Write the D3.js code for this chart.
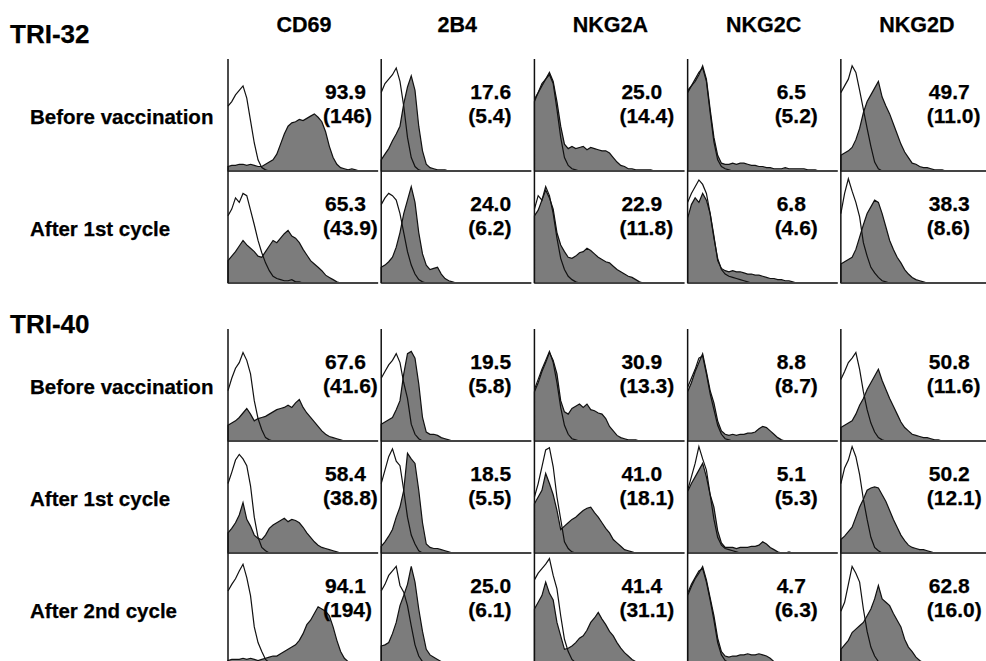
<!DOCTYPE html>
<html>
<head>
<meta charset="utf-8">
<script src="https://cdn.jsdelivr.net/npm/d3@7"></script>
<style>
  body { margin: 0; background: #fff; }
  text { font-family: 'Liberation Sans', Arial, Helvetica, sans-serif; font-weight: bold; fill: #000; stroke: #000; stroke-width: 0.25px; }
</style>
</head>
<body>
<script>
// labels
let patients = ['TRI-32', 'TRI-40']
let markers = ['CD69', '2B4', 'NKG2A', 'NKG2C', 'NKG2D']
let timepoints = ['Before vaccination', 'After 1st cycle', 'Before vaccination', 'After 1st cycle', 'After 2nd cycle']
let rowPatient = [0, 0, 1, 1, 1]

// % positive cells, one row per timepoint, one column per marker
let pctPositive = [
  [93.9, 17.6, 25.0, 6.5, 49.7],
  [65.3, 24.0, 22.9, 6.8, 38.3],
  [67.6, 19.5, 30.9, 8.8, 50.8],
  [58.4, 18.5, 41.0, 5.1, 50.2],
  [94.1, 25.0, 41.4, 4.7, 62.8]
]
// mean fluorescence (in brackets)
let mfi = [
  [146, 5.4, 14.4, 5.2, 11.0],
  [43.9, 6.2, 11.8, 4.6, 8.6],
  [41.6, 5.8, 13.3, 8.7, 11.6],
  [38.8, 5.5, 18.1, 5.3, 12.1],
  [194, 6.1, 31.1, 6.3, 16.0]
]

// histogram counts (% of panel height) per channel bin
// open = isotype control, stained = filled grey
let cd69Open = [
  [58, 62, 68, 72, 76, 65, 45, 25, 10, 3, 1, 0],
  [60, 66, 76, 72, 80, 78, 65, 52, 38, 27, 18, 11, 6, 4, 3, 2, 2, 3, 1, 1, 0],
  [45, 56, 65, 70, 79, 72, 60, 36, 20, 10, 3, 1, 0],
  [62, 72, 83, 88, 84, 78, 60, 32, 14, 5, 2, 0],
  [66, 72, 77, 84, 90, 78, 62, 34, 20, 12, 5, 2, 1, 0]
]
let cd69Stained = [
  [4, 5, 5, 6, 6, 5, 6, 5, 4, 4, 6, 8, 10, 15, 24, 33, 40, 43, 44, 46, 45, 47, 49, 51, 48, 44, 35, 22, 12, 6, 3, 2, 1, 2, 1, 0],
  [20, 24, 28, 33, 38, 34, 31, 28, 24, 23, 28, 33, 38, 36, 40, 44, 47, 42, 40, 36, 30, 25, 20, 17, 14, 11, 7, 5, 3, 1, 0],
  [14, 16, 18, 21, 25, 29, 24, 18, 20, 21, 22, 24, 26, 28, 29, 30, 32, 30, 34, 37, 30, 25, 21, 17, 13, 9, 6, 4, 3, 2, 1, 0],
  [18, 22, 27, 34, 45, 30, 24, 16, 13, 12, 16, 22, 25, 27, 29, 31, 28, 30, 29, 27, 23, 18, 14, 10, 7, 5, 4, 3, 2, 1, 0],
  [4, 5, 5, 5, 6, 5, 6, 5, 4, 5, 6, 7, 8, 8, 10, 12, 14, 16, 18, 22, 28, 36, 40, 46, 52, 50, 48, 44, 34, 22, 12, 6, 3, 1, 0]
]
let b2b4Open = [
  [70, 78, 82, 86, 92, 80, 58, 30, 12, 4, 1, 0],
  [70, 76, 80, 78, 74, 62, 45, 28, 16, 8, 3, 1, 0],
  [56, 62, 68, 72, 78, 70, 52, 38, 15, 6, 2, 0],
  [62, 74, 86, 93, 82, 78, 56, 32, 16, 8, 2, 0],
  [66, 72, 80, 84, 88, 71, 65, 53, 35, 18, 8, 3, 1, 0]
]
let b2b4Stained = [
  [10, 15, 20, 27, 33, 40, 60, 75, 85, 72, 40, 18, 6, 3, 2, 1, 1, 1, 0],
  [14, 16, 19, 23, 32, 45, 62, 74, 86, 72, 45, 26, 16, 12, 13, 14, 8, 4, 2, 1, 0],
  [15, 17, 19, 21, 28, 36, 60, 78, 80, 74, 51, 21, 8, 6, 6, 5, 3, 2, 1, 0],
  [6, 10, 15, 21, 32, 41, 56, 89, 84, 80, 56, 27, 8, 5, 4, 4, 3, 2, 1, 0],
  [17, 18, 20, 28, 38, 53, 62, 72, 88, 74, 50, 30, 14, 9, 7, 5, 3, 2, 1, 0]
]
let nkg2aOpen = [
  [64, 70, 78, 82, 86, 78, 55, 30, 12, 5, 2, 1, 0],
  [66, 78, 74, 86, 78, 62, 40, 22, 12, 6, 3, 1, 0],
  [46, 55, 64, 72, 80, 70, 52, 30, 14, 6, 2, 1, 0],
  [50, 62, 77, 92, 94, 77, 50, 30, 10, 4, 1, 0],
  [76, 82, 86, 90, 95, 80, 68, 44, 23, 12, 5, 2, 0]
]
let nkg2aStained = [
  [62, 70, 76, 82, 88, 80, 62, 40, 24, 20, 22, 20, 21, 22, 19, 21, 20, 19, 18, 18, 16, 12, 8, 5, 4, 2, 2, 1, 1, 1, 1, 1, 0],
  [60, 65, 74, 83, 76, 66, 45, 34, 28, 23, 22, 24, 27, 28, 31, 29, 26, 23, 21, 19, 18, 15, 12, 10, 8, 6, 5, 3, 1, 0],
  [44, 52, 62, 70, 79, 72, 60, 36, 26, 24, 29, 31, 33, 30, 33, 28, 27, 25, 24, 20, 13, 9, 5, 3, 2, 1, 1, 1, 0],
  [44, 50, 56, 71, 62, 52, 38, 21, 24, 27, 30, 32, 35, 38, 40, 41, 36, 32, 27, 22, 18, 12, 9, 6, 3, 2, 1, 0],
  [50, 56, 62, 74, 64, 58, 38, 26, 14, 15, 17, 20, 24, 26, 31, 38, 42, 47, 41, 36, 30, 26, 20, 15, 11, 8, 5, 3, 2, 1, 0]
]
let nkg2cOpen = [
  [70, 76, 82, 88, 92, 80, 52, 26, 10, 4, 2, 1, 0],
  [72, 80, 86, 92, 88, 80, 62, 40, 22, 12, 8, 6, 5, 4, 3, 2, 1, 0],
  [48, 56, 64, 74, 76, 60, 42, 28, 14, 6, 2, 1, 0],
  [56, 68, 80, 95, 84, 74, 52, 30, 14, 7, 4, 3, 2, 1, 0],
  [64, 72, 78, 84, 86, 74, 58, 40, 20, 9, 4, 2, 1, 0]
]
let nkg2cStained = [
  [72, 76, 80, 86, 94, 82, 55, 30, 14, 7, 6, 6, 7, 6, 7, 7, 6, 5, 5, 4, 4, 3, 3, 2, 2, 2, 3, 2, 2, 2, 2, 2, 1, 1, 1, 0],
  [58, 70, 76, 72, 80, 74, 62, 42, 20, 13, 11, 10, 11, 10, 10, 9, 8, 8, 7, 7, 6, 5, 4, 4, 3, 3, 2, 2, 1, 0],
  [44, 52, 62, 70, 78, 62, 45, 34, 18, 9, 6, 5, 6, 5, 6, 6, 7, 7, 8, 11, 13, 12, 9, 6, 3, 1, 0],
  [55, 62, 68, 74, 80, 68, 52, 41, 20, 9, 5, 5, 5, 4, 5, 5, 5, 6, 6, 7, 10, 8, 5, 3, 1, 0, 0, 1, 0],
  [62, 70, 77, 82, 88, 76, 60, 44, 24, 12, 8, 7, 8, 8, 9, 9, 10, 9, 9, 10, 9, 8, 6, 3, 1, 0]
]
let nkg2dOpen = [
  [70, 76, 82, 94, 88, 72, 55, 38, 22, 8, 2, 0],
  [62, 80, 93, 82, 72, 59, 36, 24, 14, 9, 5, 2, 1, 0],
  [55, 62, 70, 74, 79, 64, 44, 28, 16, 8, 3, 1, 0],
  [62, 76, 83, 95, 86, 70, 48, 30, 14, 5, 2, 0],
  [48, 56, 72, 88, 82, 74, 50, 30, 16, 8, 3, 1, 0]
]
let nkg2dStained = [
  [14, 16, 18, 21, 28, 38, 52, 62, 68, 74, 80, 66, 58, 51, 42, 33, 24, 17, 12, 7, 6, 4, 3, 3, 2, 1, 1, 1, 0],
  [17, 19, 21, 23, 30, 41, 52, 62, 68, 74, 72, 62, 50, 38, 30, 23, 18, 12, 8, 5, 3, 2, 1, 0],
  [12, 14, 16, 18, 24, 32, 38, 46, 52, 58, 64, 54, 46, 38, 31, 24, 17, 12, 9, 6, 5, 4, 3, 3, 2, 1, 1, 0],
  [12, 15, 19, 23, 32, 41, 48, 56, 58, 59, 58, 52, 46, 38, 30, 23, 16, 11, 7, 5, 4, 3, 3, 2, 1, 0],
  [14, 18, 22, 29, 32, 35, 38, 44, 50, 59, 71, 59, 56, 53, 46, 40, 34, 23, 16, 12, 7, 4, 2, 1, 0]
]

let openByMarker = [cd69Open, b2b4Open, nkg2aOpen, nkg2cOpen, nkg2dOpen]
let stainedByMarker = [cd69Stained, b2b4Stained, nkg2aStained, nkg2cStained, nkg2dStained]

// measurements
let m = {
  width: 986,
  height: 661,
  left: 228,
  right: 991,
  groupTop: [59, 329],
  titleY: [43, 333],
  rowH: 112,
  bins: 40,
  labelDx: [97, 89, 87, 89, 88]
}

let svg = d3.select('body')
  .append('svg')
  .attr('width', m.width)
  .attr('height', m.height)

// one band per marker column
let colScale = d3.scaleBand()
  .domain(markers)
  .range([m.left, m.right])
  .paddingInner(0.02)

// top of each row
let rowTop = timepoints.map(function(t, i) {
  let first = rowPatient.indexOf(rowPatient[i])
  return m.groupTop[rowPatient[i]] + (i - first) * m.rowH
})

let fmt1 = d3.format('.1f')
let fmtMfi = function(v) { return v >= 100 ? d3.format('d')(v) : fmt1(v) }

// patient titles
patients.forEach(function(p, g) {
  svg.append('text')
    .attr('x', 10)
    .attr('y', m.titleY[g])
    .style('font-size', '26px')
    .text(p)
})

// marker headers
markers.forEach(function(mk) {
  svg.append('text')
    .attr('x', colScale(mk) + 76)
    .attr('y', 32)
    .attr('text-anchor', 'middle')
    .style('font-size', '21.5px')
    .text(mk)
})

// row labels
timepoints.forEach(function(t, r) {
  svg.append('text')
    .attr('x', 30)
    .attr('y', rowTop[r] + m.rowH - 47)
    .style('font-size', '20.5px')
    .text(t)
})

// histogram panels
timepoints.forEach(function(t, r) {
  let bottom = rowTop[r] + m.rowH
  let yScale = d3.scaleLinear().domain([0, 100]).range([bottom, bottom - m.rowH])

  markers.forEach(function(mk, c) {
    let x0 = colScale(mk)
    let xScale = d3.scaleLinear().domain([0, m.bins]).range([x0, x0 + colScale.bandwidth()])
    let g = svg.append('g')

    let area = d3.area()
      .x(function(d, i) { return xScale(i) })
      .y0(yScale(0))
      .y1(function(d) { return yScale(d) })
    let line = d3.line()
      .x(function(d, i) { return xScale(i) })
      .y(function(d) { return yScale(d) })

    g.append('path')
      .datum(stainedByMarker[c][r])
      .attr('d', area)
      .attr('fill', '#7c7c7c')
      .attr('stroke', '#111')
      .attr('stroke-width', 1.2)

    g.append('path')
      .datum(openByMarker[c][r])
      .attr('d', line)
      .attr('fill', 'none')
      .attr('stroke', '#111')
      .attr('stroke-width', 1.2)

    // baseline and left axis
    g.append('line')
      .attr('x1', x0).attr('x2', x0 + colScale.bandwidth())
      .attr('y1', bottom).attr('y2', bottom)
      .attr('stroke', '#444')
      .attr('stroke-width', 2)
    g.append('line')
      .attr('x1', x0).attr('x2', x0)
      .attr('y1', rowTop[r]).attr('y2', bottom)
      .attr('stroke', '#111')
      .attr('stroke-width', 1.5)

    // numbers
    g.append('text')
      .attr('x', x0 + m.labelDx[c])
      .attr('y', bottom - 72)
      .style('font-size', '21px')
      .text(fmt1(pctPositive[r][c]))
    g.append('text')
      .attr('x', x0 + m.labelDx[c] - 2)
      .attr('y', bottom - 48)
      .style('font-size', '21px')
      .text('(' + fmtMfi(mfi[r][c]) + ')')
  })
})
</script>
</body>
</html>
